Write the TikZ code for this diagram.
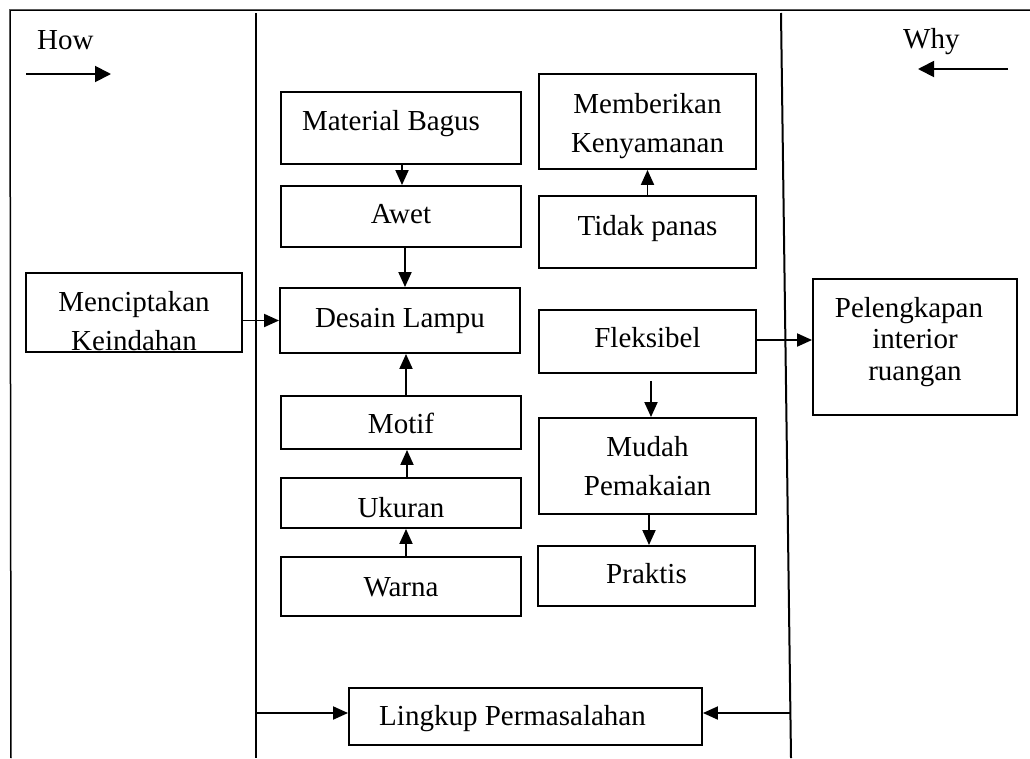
\documentclass[tikz,border=0pt]{standalone}
\usepackage{fontspec}
\setmainfont{Liberation Serif}
\usetikzlibrary{arrows.meta}
\begin{document}
\begin{tikzpicture}[x=1pt,y=-1pt,
  txt/.style={font=\fontsize{29}{38.5}\selectfont, inner sep=0pt},
  box/.style={draw, line width=1.9pt, inner sep=0pt, align=center,
    text height=20pt, text depth=7pt, font=\fontsize{29}{38.5}\selectfont},
  arr/.style={line width=1.9pt, -{Triangle[length=15pt,width=13pt]}},
  bigarr/.style={line width=1.9pt, -{Triangle[length=16pt,width=16pt]}},
  frame/.style={line width=1.5pt},
]
\useasboundingbox (0,0) rectangle (1030,758);
% frame lines
\coordinate (tl) at (10,10);
\coordinate (tr) at (1030,10);
\coordinate (lb) at (11,758);
\coordinate (mt) at (256,13);
\coordinate (mbm) at (256,758);
\coordinate (rt) at (781,13);
\coordinate (rb) at (791,758);
\draw[frame] (tr) -- (tl) -- (lb);
\draw[line width=2.8pt] (mt) -- (mbm);
\draw[line width=2pt] (rt) -- (rb);

% How / Why
\node[txt, anchor=base west] (how) at (37,49) {How};
\node[txt, anchor=base west] (why) at (903,48) {Why};
\coordinate (ha) at (26,74);
\coordinate (hb) at (111,74);
\coordinate (wa) at (1008,69);
\coordinate (wb) at (918,69);
\draw[bigarr] (ha) -- (hb);
\draw[bigarr] (wa) -- (wb);

% boxes
\node[box, minimum width=216, minimum height=79, text height=75pt, text depth=0pt] (mc) at (134,312.5) {Menciptakan\\Keindahan};
\node[box, minimum width=240, minimum height=72, text depth=16pt] (mb) at (401,128) {Material Bagus\hspace*{20pt}};
\node[box, minimum width=240, minimum height=61] (awet) at (401,216.5) {Awet};
\node[box, minimum width=240, minimum height=65] (desain) at (400,320.5) {Desain Lampu};
\node[box, minimum width=240, minimum height=53, text height=21pt, text depth=0pt] (motif) at (401,422.5) {Motif};
\node[box, minimum width=240, minimum height=50, text height=28pt, text depth=0pt] (ukuran) at (401,503) {Ukuran};
\node[box, minimum width=240, minimum height=59, text height=20pt, text depth=0pt] (warna) at (401,586.5) {Warna};

\node[box, minimum width=217, minimum height=95, text height=61pt, text depth=0pt] (beri) at (647.5,121.5) {Memberikan\\Kenyamanan};
\node[box, minimum width=217, minimum height=72, text depth=14pt] (tidak) at (647.5,232) {Tidak panas};
\node[box, minimum width=217, minimum height=63, text depth=9pt] (fleks) at (647.5,341.5) {Fleksibel};
\node[box, minimum width=217, minimum height=96, text height=58pt, text depth=0pt] (mudah) at (647.5,466) {Mudah\\Pemakaian};
\node[box, minimum width=217, minimum height=60, text depth=6pt] (praktis) at (646.5,576) {Praktis};

\node[box, minimum width=204, minimum height=136, text height=66pt, text depth=0pt, font=\fontsize{29}{31.5}\selectfont] (pel) at (915,347) {Pelengkapan\hspace*{12pt}\\interior\hspace*{12pt}\\ruangan};
\node[box, minimum width=353, minimum height=57, text depth=3pt] (ling) at (525.5,716.5) {Lingkup Permasalahan\hspace*{26pt}};

% connectors
\draw[arr] ([xshift=1pt]mb.south) -- ([xshift=1pt]awet.north);
\draw[arr] ([xshift=4pt]awet.south) -- ([xshift=4pt]awet.south |- desain.north);
\draw[arr] ([xshift=5pt]motif.north) -- ([xshift=5pt]motif.north |- desain.south);
\draw[arr] ([xshift=6pt]ukuran.north) -- ([xshift=6pt]motif.south);
\draw[arr] ([xshift=5pt]warna.north) -- ([xshift=5pt]ukuran.south);
\draw[arr] (tidak.north) -- (beri.south);
\draw[arr] ([xshift=3.5pt,yshift=-7pt]fleks.south) -- ([xshift=3.5pt]fleks.south |- mudah.north);
\draw[arr] ([xshift=1.5pt]mudah.south) -- ([xshift=1.5pt]mudah.south |- praktis.north);
\draw[arr] (desain.west -| mc.east) -- (desain.west);
\draw[arr] ([yshift=1.5pt]fleks.east) -- ([yshift=1.5pt]fleks.east -| pel.west);
\coordinate (lL) at (256,713);
\coordinate (lR) at (790,713);
\draw[arr] (lL) -- (lL -| ling.west);
\draw[arr] (lR) -- (lR -| ling.east);
\end{tikzpicture}
\end{document}
